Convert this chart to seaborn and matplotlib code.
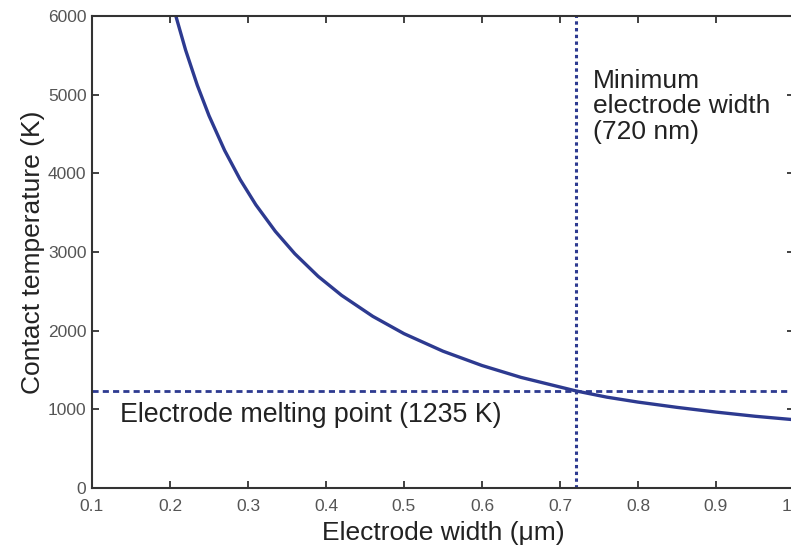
import numpy as np
import pandas as pd
import matplotlib
matplotlib.use("Agg")
import matplotlib.pyplot as plt
import seaborn as sns

# contact temperature vs electrode width
width_um = [0.2075, 0.22, 0.235, 0.25, 0.27, 0.29, 0.31, 0.335, 0.36, 0.39, 0.42,
            0.46, 0.50, 0.55, 0.60, 0.65, 0.72, 0.76, 0.80, 0.85, 0.90, 0.95, 1.00]
temp_k = [6000, 5567, 5120, 4733, 4292, 3920, 3601, 3263, 2978, 2690, 2449,
          2182, 1962, 1739, 1557, 1406, 1235, 1155, 1092, 1025, 965, 912, 868]

melting_point = 1235
min_width = 0.72

x_ticks = [0.1, 0.2, 0.3, 0.4, 0.5, 0.6, 0.7, 0.8, 0.9, 1.0]
y_ticks = [0, 1000, 2000, 3000, 4000, 5000, 6000]

df = pd.DataFrame({"width": width_um, "temp": temp_k})

sns.set_style("ticks")
plt.rcParams["font.family"] = ["Liberation Sans", "DejaVu Sans"]

line_color = "#2d3a90"

fig = plt.figure(figsize=(7.91, 5.48), dpi=100)
ax = fig.add_axes([92 / 791, 1 - 488 / 548, (794 - 92) / 791, (488 - 16) / 548])

sns.lineplot(data=df, x="width", y="temp", ax=ax, color=line_color, linewidth=2.4)

ax.axhline(melting_point, color=line_color, linewidth=2.0, linestyle=(0, (2.2, 1.5)))
ax.axvline(min_width, color=line_color, linewidth=2.2, linestyle=(0, (1.1, 1.1)))

ax.text(0.136, 928, "Electrode melting point (1235 K)", fontsize=19.3,
        color="#222222", va="center", ha="left")
ax.text(0.742, 5325, "Minimum\nelectrode width\n(720 nm)", fontsize=19,
        color="#222222", va="top", ha="left", linespacing=1.07)

ax.set_xlim(0.1, 1.0)
ax.set_ylim(0, 6000)
ax.set_xticks(x_ticks)
ax.set_yticks(y_ticks)
ax.set_xticklabels([f"{t:.1f}" for t in x_ticks])
ax.set_yticklabels([str(t) for t in y_ticks])

ax.tick_params(direction="in", top=True, right=True, length=5, width=1.3,
               colors="#333333", labelsize=12.5, labelcolor="#555555")
ax.tick_params(axis="x", pad=8)
ax.tick_params(axis="y", pad=4)
for s in ax.spines.values():
    s.set_visible(True)
    s.set_color("#333333")
    s.set_linewidth(1.5)

ax.set_xlabel("Electrode width (μm)", fontsize=19, color="#222222", labelpad=5)
ax.set_ylabel("Contact temperature (K)", fontsize=19, color="#222222", labelpad=2)

fig.savefig("out.png", dpi=100)
